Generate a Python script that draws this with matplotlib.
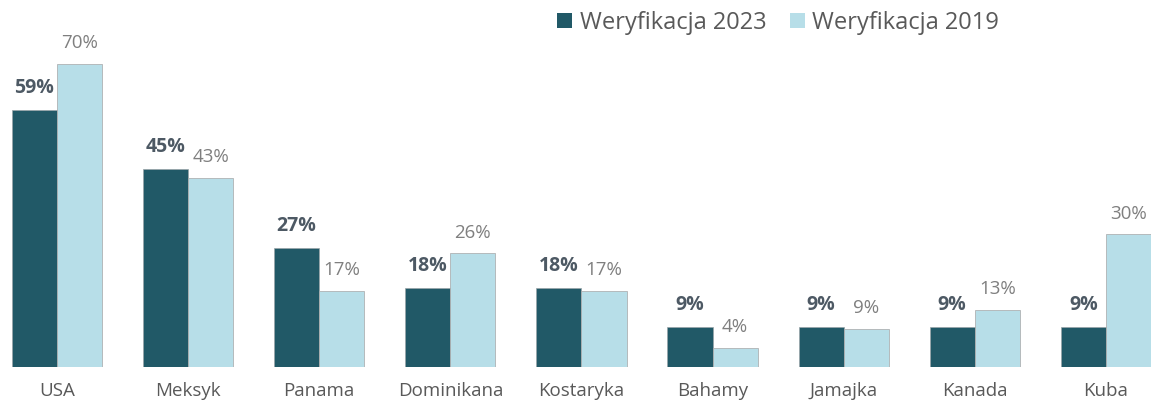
import numpy as np
import matplotlib
matplotlib.use("Agg")
import matplotlib.pyplot as plt
from matplotlib.patches import Patch

countries = ["USA", "Meksyk", "Panama", "Dominikana", "Kostaryka",
             "Bahamy", "Jamajka", "Kanada", "Kuba"]
ver2023 = [59.09, 45.45, 27.27, 18.18, 18.18, 9.09, 9.09, 9.09, 9.09]
ver2019 = [69.57, 43.48, 17.39, 26.09, 17.39, 4.35, 8.70, 13.04, 30.43]
series_names = ["Weryfikacja 2023", "Weryfikacja 2019"]

dark = "#215967"
light = "#B7DEE8"
text_dark = "#4D5964"
text_gray = "#7F7F7F"

plt.rcParams["font.family"] = ["Open Sans", "DejaVu Sans"]

fig = plt.figure(figsize=(11.51, 4.05), dpi=100)
ax = fig.add_axes([0, 0.094, 1, 0.906])

x = np.arange(len(countries))
w = 0.344

b1 = ax.bar(x - w / 2, ver2023, w, color=dark, edgecolor="#9aa5a8", linewidth=0.5)
b2 = ax.bar(x + w / 2, ver2019, w, color=light, edgecolor="#a6a6a6", linewidth=0.5)

# etykiety wartosci nad slupkami
for rect, v in zip(b1, ver2023):
    ax.annotate(f"{round(v)}%", (rect.get_x() + rect.get_width() / 2, v),
                xytext=(0, 16), textcoords="offset points", ha="center", va="center",
                fontsize=14, fontweight="bold", color=text_dark)
for rect, v in zip(b2, ver2019):
    ax.annotate(f"{round(v)}%", (rect.get_x() + rect.get_width() / 2, v),
                xytext=(0, 15), textcoords="offset points", ha="center", va="center",
                fontsize=13.5, color=text_gray)

ax.set_xlim(-0.435, 8.344)
ax.set_ylim(0, 84.3)
ax.set_xticks(x)
ax.set_xticklabels(countries, fontsize=13.5, color="#595959")
ax.tick_params(axis="x", length=0, pad=11)
ax.set_yticks([])
for s in ax.spines.values():
    s.set_visible(False)

handles = [Patch(facecolor=dark, edgecolor="none"), Patch(facecolor=light, edgecolor="none")]
fig.legend(handles, series_names, loc="center", bbox_to_anchor=(0.676, 0.944), ncol=2,
           frameon=False, fontsize=17, labelcolor="#595959",
           handlelength=0.65, handleheight=0.65, handletextpad=0.3, columnspacing=1.0)

fig.savefig("out.png", dpi=100)
